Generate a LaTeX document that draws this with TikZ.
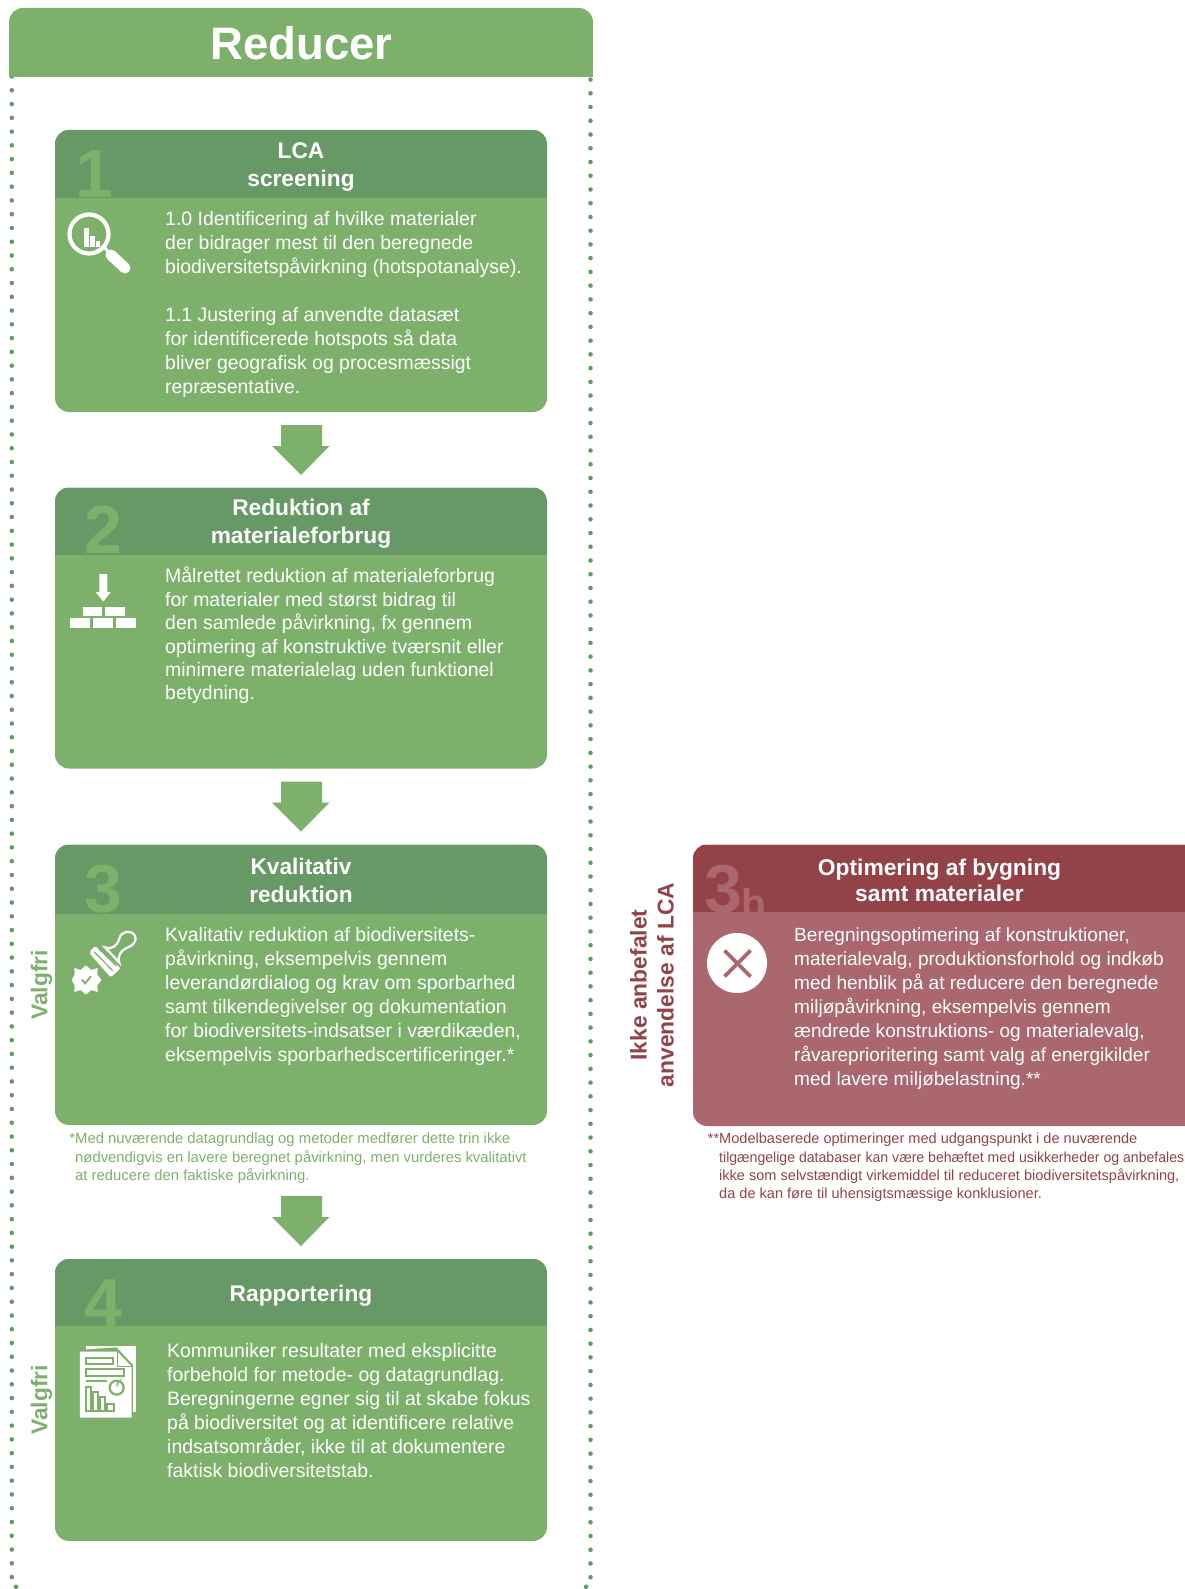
\documentclass[tikz,border=0pt]{standalone}
\usepackage{graphicx}
\usepackage{fontspec}
\setmainfont{Liberation Sans}
\usetikzlibrary{calc}
\definecolor{grn}{HTML}{7DB16B}
\definecolor{grnd}{HTML}{669966}
\definecolor{redd}{HTML}{934248}
\definecolor{redl}{HTML}{AA676D}
\definecolor{numr}{HTML}{AA676D}
\tikzset{
 bodytxt/.style={anchor=north west,inner sep=0pt,align=left,text=white,font=\fontsize{19.45}{24}\selectfont},
 headtxt/.style={anchor=center,inner sep=0pt,align=center,text=white,font=\bfseries\fontsize{22.7}{28}\selectfont},
 numtxt/.style={anchor=base west,inner sep=0pt,font=\bfseries\fontsize{68}{68}\selectfont},
 notetxt/.style={anchor=north west,inner sep=0pt,align=left,font=\fontsize{14.85}{18.3}\selectfont},
 sidetxt/.style={anchor=center,inner sep=0pt,align=center,rotate=90,font=\bfseries\fontsize{22.8}{27}\selectfont},
 dotmark/.style={fill=grnd,draw=none},
}
\newcommand{\stepcard}[8]{% x0,x1,y0,yh,y1,light,dark,num node
 \fill[#6,rounded corners=14pt] (#1,#3) rectangle (#2,#5);
 \begin{scope}
  \clip[rounded corners=14pt] (#1,#3) rectangle (#2,#5);
  \fill[#7] (#1,#3) rectangle (#2,#4);
  \clip (#1,#3) rectangle (#2,#4);
  #8
 \end{scope}}
\newcommand{\blockarrow}[1]{%
 \fill[grn] (281,#1) -- (322,#1) -- (322,#1+21) -- (329.5,#1+21) -- (301,#1+50) -- (272,#1+21) -- (281,#1+21) -- cycle;}
\begin{document}
\begin{tikzpicture}[x=1pt,y=-1pt]
\useasboundingbox (0,0) rectangle (1185,1589);
% dotted frame
\foreach \i in {-1,...,108}{
 \fill[dotmark] (11.8,{90.3+\i*13.766}) circle (2.3);
 \fill[dotmark] (590.5,{93.3+\i*13.74}) circle (2.3);
}
\fill[dotmark] (16,1586.8) circle (2.3);
\fill[dotmark] (586,1586.8) circle (2.3);
% title band
\fill[grn,rounded corners=14pt] (9,8) rectangle (593,40);
\fill[grn] (9,26) rectangle (593,77);
\node[inner sep=0pt,text=white,font=\bfseries\fontsize{45.5}{50}\selectfont] (title) at (301.5,43) {Reducer};
% cards
\stepcard{55}{547}{130}{198}{412}{grn}{grnd}{\node[numtxt,text=grn] (n1) at (75,198) {1};}
\stepcard{55}{547}{487.5}{555}{768.5}{grn}{grnd}{\node[numtxt,text=grn] (n2) at (84,553) {2};}
\stepcard{55}{547}{844.5}{914}{1125}{grn}{grnd}{\node[numtxt,text=grn] (n3) at (84,912) {3};}
\stepcard{55}{547}{1259}{1326}{1541}{grn}{grnd}{\node[numtxt,text=grn] (n4) at (84,1326) {4};}
\stepcard{693}{1199}{844.5}{912}{1126}{redl}{redd}{\node[numtxt,text=numr] (n3b) at (704,912) {3}; \node[anchor=base west,inner sep=0pt,text=numr,font=\bfseries\fontsize{40}{40}\selectfont] (n3bb) at (741,917) {b};}
% arrows
\blockarrow{425}
\blockarrow{781.5}
\blockarrow{1196}
% headings
\node[headtxt] (h1) at (301,167) {LCA\\screening};
\node[headtxt] (h2) at (301,523.5) {Reduktion af\\materialeforbrug};
\node[headtxt] (h3) at (301,880.5) {Kvalitativ\\reduktion};
\node[headtxt] (h4) at (301,1296) {Rapportering};
\node[headtxt,font=\bfseries\fontsize{22.8}{26}\selectfont] (h3b) at (939.5,880) {Optimering af bygning\\samt materialer};
% bodies
\node[bodytxt] (b1) at (165,211) {1.0 Identificering af hvilke materialer\\der bidrager mest til den beregnede\\biodiversitetspåvirkning (hotspotanalyse).\\[24pt]1.1 Justering af anvendte datasæt\\for identificerede hotspots så data\\bliver geografisk og procesmæssigt\\repræsentative.};
\node[bodytxt,font=\fontsize{19.45}{23.4}\selectfont] (b2) at (165,567) {Målrettet reduktion af materialeforbrug\\for materialer med størst bidrag til\\den samlede påvirkning, fx gennem\\optimering af konstruktive tværsnit eller\\minimere materialelag uden funktionel\\betydning.};
\node[bodytxt] (b3) at (165,927) {Kvalitativ reduktion af biodiversitets-\\påvirkning, eksempelvis gennem\\leverandørdialog og krav om sporbarhed\\samt tilkendegivelser og dokumentation\\for biodiversitets-indsatser i værdikæden,\\eksempelvis sporbarhedscertificeringer.*};
\node[bodytxt] (b4) at (167,1343) {Kommuniker resultater med eksplicitte\\forbehold for metode- og datagrundlag.\\Beregningerne egner sig til at skabe fokus\\på biodiversitet og at identificere relative\\indsatsområder, ikke til at dokumentere\\faktisk biodiversitetstab.};
\node[bodytxt,font=\fontsize{19.05}{24}\selectfont] (b3b) at (794,927) {Beregningsoptimering af konstruktioner,\\materialevalg, produktionsforhold og indkøb\\med henblik på at reducere den beregnede\\miljøpåvirkning, eksempelvis gennem\\ændrede konstruktions- og materialevalg,\\råvareprioritering samt valg af energikilder\\med lavere miljøbelastning.**};
% notes
\node[notetxt,text=grn] (fn1) at (75,1133) {\llap{*}Med nuværende datagrundlag og metoder medfører dette trin ikke\\nødvendigvis en lavere beregnet påvirkning, men vurderes kvalitativt\\at reducere den faktiske påvirkning.};
\node[notetxt,text=redd,font=\fontsize{14.55}{18.3}\selectfont] (fn2) at (719,1133) {\llap{**}Modelbaserede optimeringer med udgangspunkt i de nuværende\\\scalebox{0.968}[1]{tilgængelige databaser kan være behæftet med usikkerheder og anbefales}\\ikke som selvstændigt virkemiddel til reduceret biodiversitetspåvirkning,\\da de kan føre til uhensigtsmæssige konklusioner.};
% side labels
\node[sidetxt,text=grn] (v1) at (41.5,985) {Valgfri};
\node[sidetxt,text=grn] (v2) at (41.5,1400) {Valgfri};
\node[sidetxt,text=redd] (ia) at (652,985) {Ikke anbefalet\\anvendelse af LCA};
% icon 1 magnifier
\draw[white,line width=4.2pt] (89,234) circle (19.5);
\draw[white,line width=11pt,line cap=round] (111,255) -- (125,268);
\draw[white,line width=3pt] (105,248) -- (110,254);
\fill[white] (84,228) rectangle (88.5,247);
\fill[white] (90,236) rectangle (94.5,247);
\fill[white] (96,241) rectangle (100,247);
% icon 2 bricks
\fill[white] (99.3,574) -- (107.3,574) -- (107.3,592) -- (110.7,592) -- (103.3,601.7) -- (95.7,592) -- (99.3,592) -- cycle;
\fill[white] (82.7,606.7) rectangle (102.3,615.7);
\fill[white] (105.3,606.7) rectangle (125,615.7);
\fill[white] (70,618.3) rectangle (89.7,627.7);
\fill[white] (93,618.3) rectangle (112.7,627.7);
\fill[white] (116.3,618.3) rectangle (136,627.7);
% icon 3 stamp
\begin{scope}[shift={(20,840)},x=0.3333pt,y=-0.3333pt]
 \draw[white,line width=2.2pt,fill=grn] (255,322) .. controls (275,330) and (292,318) .. (298,295) .. controls (304,272) and (335,268) .. (345,288) .. controls (352,308) and (335,318) .. (320,324) .. controls (303,332) and (292,345) .. (298,368) -- cycle;
 \fill[white,rounded corners=2pt] (207,338) -- (225,318) -- (302,385) -- (272,412) -- cycle;
 \draw[grn,line width=1.2pt] (222,335) -- (278,392);
 \draw[grn,line width=1.2pt] (236,326) -- (290,378);
 \fill[white] (198,376) -- (214,390) -- (233,384) -- (232,404) -- (244,420) -- (232,436) -- (233,456) -- (214,450) -- (198,464) -- (182,450) -- (163,456) -- (164,436) -- (155,420) -- (164,404) -- (163,384) -- (182,390) -- cycle;
 \draw[grn,line width=1.8pt,line cap=round] (186,420) -- (196,430) -- (212,410);
\end{scope}
% icon 4 report
\begin{scope}[shift={(20,1250)},x=0.3333pt,y=-0.3333pt]
 \fill[white] (197,287) rectangle (347,487);
 \fill[grn] (290,292) -- (339,345) -- (339,500) -- (175,510) -- (175,300) -- cycle;
 \fill[white] (180,305) -- (292,305) -- (335,350) -- (335,503) -- (180,503) -- cycle;
 \draw[grn,line width=1.6pt] (292,305) -- (292,350) -- (335,350);
 \draw[grn,line width=2pt] (197,323) rectangle (278,341);
 \draw[grn,line width=2pt] (197,358) rectangle (313,378);
 \draw[grn,line width=2pt] (197,392) -- (262,392);
 \draw[grn,line width=2.2pt] (290,413) circle (21);
 \fill[grn] (290,413) -- (290,398) arc (90:-10:15) -- cycle;
 \draw[grn,line width=2pt] (199,410) rectangle (212,482);
 \draw[grn,line width=2pt] (220,425) rectangle (233,482);
 \draw[grn,line width=2pt] (241,440) rectangle (254,482);
 \draw[grn,line width=2pt] (262,462) rectangle (283,482);
\end{scope}
% icon 3b
\fill[white] (737,963) circle (30);
\draw[redl,line width=3.6pt] (724.5,950.5) -- (750.5,976.5);
\draw[redl,line width=3.6pt] (750.5,950.5) -- (724.5,976.5);
\end{tikzpicture}
\end{document}
